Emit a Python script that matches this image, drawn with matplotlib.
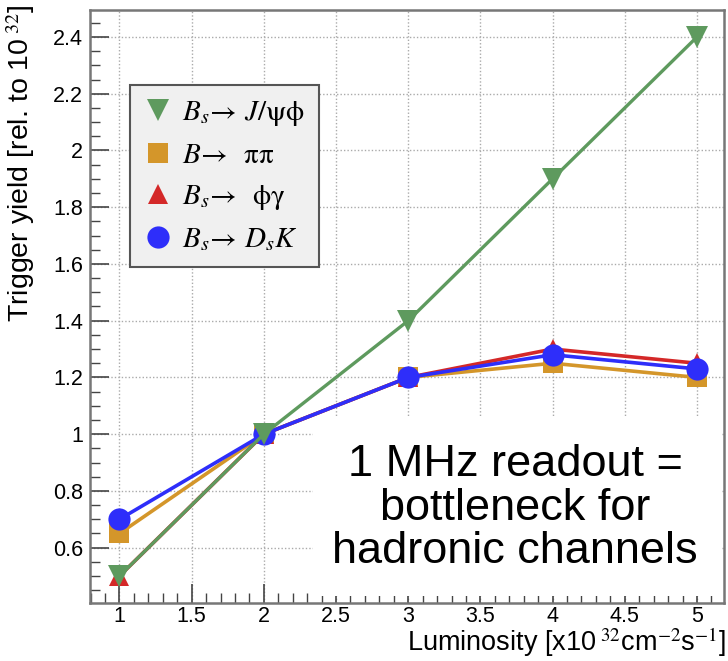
import matplotlib
matplotlib.use("Agg")
import matplotlib.pyplot as plt
from matplotlib.patches import Rectangle
from matplotlib.ticker import MultipleLocator, FormatStrFormatter

plt.rcParams['font.family'] = ['Liberation Sans', 'DejaVu Sans']
plt.rcParams['mathtext.fontset'] = 'stix'

luminosity = [1, 2, 3, 4, 5]
jpsiphi = [0.50, 1.00, 1.40, 1.90, 2.40]
pipi = [0.65, 1.00, 1.20, 1.25, 1.20]
phigamma = [0.50, 1.00, 1.20, 1.30, 1.25]
dsk = [0.70, 1.00, 1.20, 1.28, 1.23]

labels = [r"$B_s\!\rightarrow\, J/\mathrm{\psi\phi}$",
          r"$B\!\rightarrow\;\; \mathrm{\pi\pi}$",
          r"$B_s\!\rightarrow\;\; \mathrm{\phi\gamma}$",
          r"$B_s\!\rightarrow\, D_sK$"]

W, H = 728, 661
fig = plt.figure(figsize=(W / 100, H / 100), dpi=100)
L, R, T, B = 90, 724, 10, 603
ax = fig.add_axes([L / W, 1 - B / H, (R - L) / W, (B - T) / H])

ax.set_xlim(0.796, 5.187)
ax.set_ylim(0.405, 2.495)

ax.xaxis.set_major_locator(MultipleLocator(0.5))
ax.xaxis.set_minor_locator(MultipleLocator(0.1))
ax.yaxis.set_major_locator(MultipleLocator(0.2))
ax.yaxis.set_minor_locator(MultipleLocator(0.05))
ax.xaxis.set_major_formatter(FormatStrFormatter('%g'))
ax.yaxis.set_major_formatter(FormatStrFormatter('%g'))
ax.tick_params(which='both', direction='in', top=False, right=False,
               color='#444444', labelsize=15.5)
ax.tick_params(axis='x', pad=2)
ax.tick_params(axis='y', pad=5)
ax.tick_params(which='major', length=14, width=1.2)
ax.tick_params(which='minor', length=7, width=1.0)
for s in ax.spines.values():
    s.set_color('#777777')
    s.set_linewidth(1.8)

ax.set_axisbelow(True)
ax.grid(True, which='major', color='#aaaaaa', linestyle=(0, (1, 1.5)), linewidth=1.0, zorder=0)

# white text box (covers grid)
ax.add_patch(Rectangle((313 / W, 1 - 596 / H), (R - 2 - 313) / W, (596 - 418) / H,
                       transform=fig.transFigure, facecolor='white', edgecolor='none', zorder=1))

l_pipi, = ax.plot(luminosity, pipi, color='#d4962a', lw=2.6, marker='s', ms=15,
                  markeredgewidth=0, zorder=3)
l_phig, = ax.plot(luminosity, phigamma, color='#d42828', lw=2.6, marker='^', ms=15,
                  markeredgewidth=0, zorder=4)
l_dsk, = ax.plot(luminosity, dsk, color='#2e2efa', lw=2.6, marker='o', ms=16,
                 markeredgewidth=0, zorder=5)
l_jpsi, = ax.plot(luminosity, jpsiphi, color='#5e9a5e', lw=2.4, marker='v', ms=16,
                  markeredgewidth=0, zorder=6)

leg = ax.legend([l_jpsi, l_pipi, l_phig, l_dsk], labels,
                loc='upper left', bbox_to_anchor=(130 / W, 1 - 85 / H),
                bbox_transform=fig.transFigure,
                fontsize=21, frameon=True, fancybox=False, shadow=False,
                handlelength=1.0, handletextpad=0.35, labelspacing=0.45,
                borderpad=0.45, borderaxespad=0)
leg.get_frame().set_facecolor('#f0f0f0')
leg.get_frame().set_edgecolor('#555555')
leg.get_frame().set_linewidth(1.5)
leg.get_frame().set_alpha(1)
for h in leg.legend_handles:
    h.set_linestyle('none')
leg.set_zorder(10)

fig.text(21 / W, 1 - 4 / H, r"Trigger yield [rel. to 10$^{\ 32}$]", rotation=90,
         ha='center', va='top', fontsize=20.5)
fig.text(726 / W, 1 - 642 / H, r"Luminosity [x10$^{\ 32}$cm$^{-2}$s$^{-1}$]",
         ha='right', va='center', fontsize=19.5)

fig.text(515 / W, 1 - 508 / H, "1 MHz readout =\nbottleneck for\nhadronic channels",
         ha='center', va='center', fontsize=32.5, linespacing=1.08, color='black',
         family=['Liberation Sans', 'DejaVu Sans'], zorder=12)

fig.savefig("out.png", dpi=100)
